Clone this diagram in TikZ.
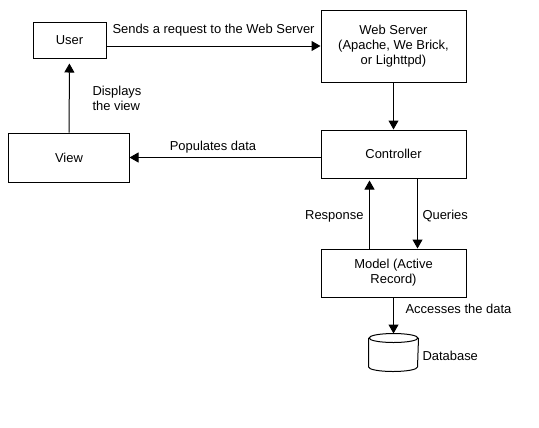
\documentclass[tikz,border=0pt]{standalone}
\usepackage{fontspec}
\setmainfont{Liberation Sans}
\usetikzlibrary{arrows.meta}

\begin{document}
\begin{tikzpicture}[
    x=1bp, y=-1bp,
    font=\fontsize{13}{15}\selectfont,
    line width=1bp,
    >={Triangle[length=9bp,width=10bp]},
    box/.style={rectangle, draw, align=center, inner sep=0pt},
    db/.style={rectangle, minimum width=49bp, minimum height=37bp, inner sep=0pt},
    lbl/.style={inner sep=0pt, align=left},
]
\useasboundingbox (0,0) rectangle (539,427);

% Блоки слева
\node[box, minimum width=73bp, minimum height=36bp] (user) at (69.5,40) {User};
\node[box, minimum width=120bp, minimum height=49bp] (view) at (69,157.5) {View};

% Блоки справа
\node[box, minimum width=145bp, minimum height=72bp] (web) at (393.5,46) {Web Server\\(Apache, We Brick,\\or Lighttpd)};
\node[box, minimum width=145bp, minimum height=48bp] (ctrl) at (393.5,154) {Controller};
\node[box, minimum width=145bp, minimum height=48bp] (model) at (393.5,273) {Model (Active\\Record)};

% База данных (цилиндр)
\node[db] (db) at (393.5,352.5) {};
\draw ([yshift=-4.5bp]db.north) ellipse [x radius=24.5bp, y radius=4.5bp];
\draw ([yshift=-4.5bp]db.north west) -- ([yshift=4.5bp]db.south west)
    arc[start angle=180, end angle=360, x radius=24.5bp, y radius=4.5bp]
    -- ([yshift=-4.5bp]db.north east);

% Подписи
\node[lbl, anchor=west] (lsend) at (112,30) {Sends a request to the Web Server};
\node[lbl, anchor=west] (ldisp) at (92,98) {Displays\\the view};
\node[lbl] (lpop) at (213,147) {Populates data};
\node[lbl, anchor=east] (lresp) at (364,216) {Response};
\node[lbl, anchor=west] (lquer) at (422,216) {Queries};
\node[lbl, anchor=west] (lacc) at (405,309) {Accesses the data};
\node[lbl, anchor=west] (ldb) at (422,356) {Database};

% Рёбра
\draw[->] (user.east |- web.west) -- (web.west);
\draw[->, shorten >=5bp] (view) -- (user);
\draw[->] (web) -- (ctrl);
\draw[->] (ctrl.west |- view) -- (view.east);
\draw[->] ([xshift=24bp]ctrl.south) -- ([xshift=24bp]model.north);
\draw[->, shorten >=2bp] ([xshift=-24bp]model.north) -- ([xshift=-24bp]ctrl.south);
\draw[->] (model) -- (db);

\end{tikzpicture}
\end{document}
